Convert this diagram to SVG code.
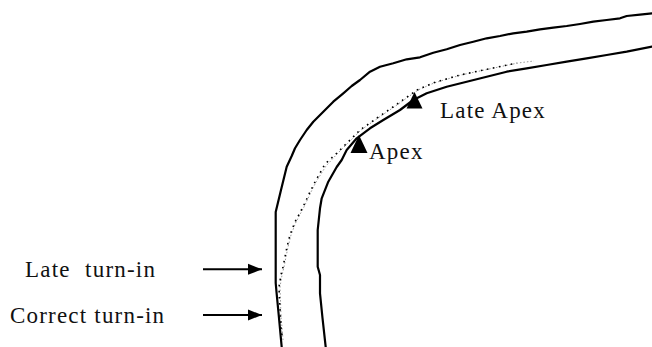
<svg xmlns="http://www.w3.org/2000/svg" width="652" height="347" viewBox="0 0 652 347">
<style>
.track{fill:none;stroke:#000;stroke-width:2.2;stroke-linejoin:round;stroke-linecap:round}
.line-gray{fill:none;stroke:#9a9a9a;stroke-width:1;stroke-dasharray:1.5 2}
.line-black{fill:none;stroke:#000;stroke-width:1.6;stroke-dasharray:1.6 4.5}
.lbl{font-family:"Liberation Serif","Times New Roman",serif;font-size:23px;fill:#111;letter-spacing:1.2px}
.arrow{stroke:#000;stroke-width:2;fill:none}
</style>
<defs>
<marker id="ah" markerUnits="userSpaceOnUse" markerWidth="16" markerHeight="12" refX="14" refY="6" orient="auto">
<path d="M0,0.5 L14,6 L0,11.5 Z" fill="#000"/>
</marker>
</defs>
<rect width="652" height="347" fill="#fff"/>
<g id="track">
<path id="outer-edge" class="track" d="M281.7,347 L279,318 L276.5,292 L275.7,283 L275.7,212 L281,190 L286.7,166.7 L291.7,156 L295,148.3 L300,140 L306.7,130 L313.3,121.7 L323.3,111.7 L333.3,101.7 L343.3,93.3 L351.7,86 L360,80 L370,71.7 L380,66.7 L393.3,63.3 L406.7,59.3 L420,57.3 L433.3,52.7 L446.7,49.3 L460,45 L473.3,41.7 L486.7,38.3 L500,36 L513.3,33.3 L526.7,31.7 L540,29.3 L553.3,27.7 L566.7,26 L580,24 L593.3,21.7 L606.7,20 L620,18.3 L626.7,16 L640,14.7 L652,13.3"/>
<path id="inner-edge" class="track" d="M325.7,347 L322.5,318 L320,293.3 L320,275 L317.7,266.7 L317.7,230 L320,208.3 L321.7,198.3 L328.3,181.7 L336.7,167 L341.7,160 L346.7,150 L356.7,138.3 L370,128.3 L383.3,120 L400,110 L413.3,100 L426.7,93.3 L446.7,86.7 L466.7,81.7 L486.7,76.7 L506.7,71.7 L526.7,68.3 L546.7,65 L566.7,61.7 L586.7,58.3 L606.7,55 L626.7,51.7 L652,46.7"/>
</g>
<g id="racing-lines">
<path class="line-gray" d="M283,340 L282,327 L281,317 L280.5,300 L280,287 L282,275 L284,267 L288,247 L291,235 L296,222 L304,207 L311,192 L316,182 L326,166 L338,153 L351,140 L361,130 L378,118 L394,107 L418,90 L434,83 L461,75 L494,68 L518,63 L534,61"/>
<path class="line-black" d="M282,335 L281,327 L280.5,317 L279.5,300 L279,287 L281,275 L283,267 L287,247 L290,235 L295,222 L303,207 L310,192 L315,182 L325,164 L337,153 L350,140 L360,130 L377,118 L393,107 L417,90 L433,83 L460,75 L493,68 L517,63"/>
</g>
<g id="apex">
<path d="M359,135 L367.5,153 L350.5,153 Z" fill="#000"/>
<text class="lbl" x="369" y="159">Apex</text>
</g>
<g id="late-apex">
<path d="M414.5,92 L422.5,108.5 L406.5,108.5 Z" fill="#000"/>
<text class="lbl" x="440" y="118">Late Apex</text>
</g>
<g id="late-turn-in">
<text class="lbl" x="25" y="277" word-spacing="7.5">Late turn-in</text>
</g>
<g id="correct-turn-in">
<text class="lbl" x="10" y="323">Correct turn-in</text>
</g>
<g id="connectors">
<line class="arrow" x1="203" y1="269.3" x2="262" y2="269.3" marker-end="url(#ah)"/>
<line class="arrow" x1="203" y1="315" x2="262" y2="315" marker-end="url(#ah)"/>
</g>
</svg>
